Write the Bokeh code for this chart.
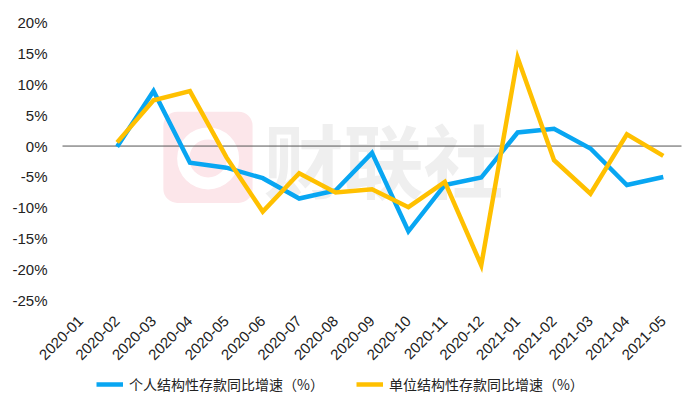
from bokeh.plotting import figure
from bokeh.models import (Range1d, FixedTicker, Legend, LegendItem,
                          BoxAnnotation, Label, ColumnDataSource)
from bokeh.embed import file_html
from bokeh.resources import INLINE
import math

months = ["2020-01", "2020-02", "2020-03", "2020-04", "2020-05", "2020-06", "2020-07",
          "2020-08", "2020-09", "2020-10", "2020-11", "2020-12", "2021-01", "2021-02",
          "2021-03", "2021-04", "2021-05"]
series_months = months[1:]
personal = [-0.1, 8.9, -2.7, -3.5, -5.2, -8.5, -7.2, -1.1, -13.8, -6.3, -5.1, 2.2, 2.8, -0.4, -6.3, -5.0]
unit = [0.6, 7.4, 8.9, -1.8, -10.6, -4.4, -7.5, -7.0, -9.9, -5.8, -19.3, 14.3, -2.3, -7.7, 1.9, -1.6]
y_ticks = [-25, -20, -15, -10, -5, 0, 5, 10, 15, 20]
name_personal = "个人结构性存款同比增速（%）"
name_unit = "单位结构性存款同比增速（%）"

BLUE = "#08A6F2"
YELLOW = "#FFC000"
CJK = "Noto Sans CJK SC"
LAT = "Liberation Sans"

idx = {m: i for i, m in enumerate(months)}
xs = [idx[m] for m in series_months]

# plot area in px; the frame covers the whole canvas so that axis labels are not clipped
W, H = 682, 394
PLOT_L, PLOT_R, PLOT_T, PLOT_B = 62, 681, 22, 300
y_min, y_max = y_ticks[0], y_ticks[-1]
x_lo, x_hi = -0.5, len(months) - 0.5
xu = (PLOT_R - PLOT_L) / (x_hi - x_lo)
yu = (PLOT_B - PLOT_T) / (y_max - y_min)
x_range = Range1d(x_lo - PLOT_L / xu, x_hi + (W - PLOT_R) / xu)
y_range = Range1d(y_min - (H - PLOT_B) / yu, y_max + PLOT_T / yu)

p = figure(frame_width=W, frame_height=H, x_range=x_range, y_range=y_range,
           output_backend="svg", toolbar_location=None,
           min_border_left=0, min_border_right=0, min_border_top=0, min_border_bottom=0)
p.outline_line_color = None
p.grid.visible = False
p.background_fill_color = "white"
p.border_fill_color = "white"

# watermark (decorative)
p.add_layout(BoxAnnotation(left=2.27, right=4.72, top=5.55, bottom=-9.2,
                           fill_color="#FCE6EA", fill_alpha=1.0, line_color=None,
                           border_radius=14, level="underlay"))
p.add_layout(Label(x=5.02, y=-1.8, text="财联社", text_font=CJK, text_font_size="80px",
                   text_font_style="bold", text_color="#EFEFEF", text_baseline="middle",
                   level="underlay"))
p.annulus(x=[3.5], y=[-2.0], inner_radius=19, outer_radius=31,
          inner_radius_units="screen", outer_radius_units="screen",
          fill_color="white", line_color=None)

# zero reference line across the plot area
p.segment(x0=[x_lo], x1=[x_hi], y0=[0], y1=[0], line_color="#555555", line_width=1)

src = ColumnDataSource(dict(x=xs, a=personal, b=unit))
r1 = p.line("x", "a", source=src, line_color=BLUE, line_width=4.5, line_join="miter")
r2 = p.line("x", "b", source=src, line_color=YELLOW, line_width=4.5, line_join="miter")

p.yaxis.fixed_location = x_lo
p.yaxis.ticker = FixedTicker(ticks=y_ticks)
p.yaxis.major_label_overrides = {t: f"{t}%" for t in y_ticks}
p.yaxis.axis_line_color = None
p.yaxis.major_tick_line_color = None
p.yaxis.minor_tick_line_color = None
p.yaxis.major_tick_out = 0
p.yaxis.minor_tick_out = 0
p.yaxis.major_label_text_font = LAT
p.yaxis.major_label_text_font_size = "15px"
p.yaxis.major_label_text_color = "#222222"
p.yaxis.major_label_standoff = 15

p.xaxis.fixed_location = y_min
p.xaxis.ticker = FixedTicker(ticks=list(range(len(months))))
p.xaxis.major_label_overrides = {i: m for i, m in enumerate(months)}
p.xaxis.axis_line_color = None
p.xaxis.major_tick_line_color = None
p.xaxis.minor_tick_line_color = None
p.xaxis.major_tick_out = 0
p.xaxis.minor_tick_out = 0
p.xaxis.major_label_orientation = math.pi / 4
p.xaxis.major_label_text_font = LAT
p.xaxis.major_label_text_font_size = "15px"
p.xaxis.major_label_text_color = "#222222"
p.xaxis.major_label_standoff = 18

legend = Legend(items=[LegendItem(label=name_personal, renderers=[r1]),
                       LegendItem(label=name_unit, renderers=[r2])],
                orientation="horizontal", location=(96, 0),
                label_text_font=CJK, label_text_font_size="14px", label_text_color="#222222",
                glyph_width=27, glyph_height=14, label_standoff=6, spacing=32,
                border_line_color=None, background_fill_alpha=0, padding=0, margin=0)
p.add_layout(legend, "center")

open("out.html", "w").write(file_html(p, INLINE))
